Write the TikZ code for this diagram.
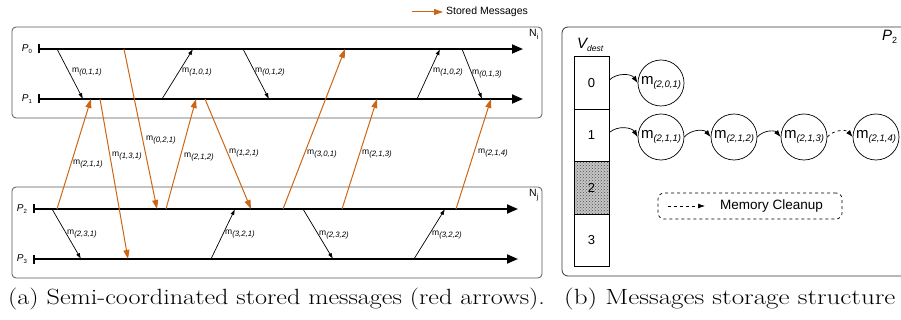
\documentclass[tikz,border=0pt]{standalone}
\usepackage{fontspec}
\newfontfamily\hv{Liberation Sans}
\usetikzlibrary{arrows.meta,patterns}
\definecolor{stored}{RGB}{204,102,20}
\newcommand\mlab[1]{{\fontsize{8.5}{9}\selectfont m}\raisebox{-2.5pt}{\fontsize{7.8}{8}\selectfont\itshape(#1)}}
\newcommand\clab[1]{{\fontsize{15}{15}\selectfont m}\raisebox{-3pt}{\fontsize{9.5}{10}\selectfont\itshape(#1)}}
\newcommand\plab[1]{{\fontsize{10}{10}\selectfont\itshape P}\raisebox{-2.5pt}{\fontsize{6}{6}\selectfont #1}}
\tikzset{
  proc/.style={line width=1.8pt, {Bar[width=9pt,line width=1.5pt]}-{Triangle[length=11pt,width=9pt]}},
  msg/.style={line width=0.7pt, -{Latex[length=6pt,width=4pt]}},
  smsg/.style={draw=stored, line width=1pt, -{Triangle[length=9pt,width=6pt]}},
  lab/.style={anchor=west, inner sep=0pt, font=\hv},
  grp/.style={draw=black!65, line width=0.8pt, rounded corners=4pt},
  cell/.style={draw, line width=0.7pt, minimum width=35pt, minimum height=52.5pt, inner sep=0pt, font=\hv\fontsize{13}{13}\selectfont},
  msgc/.style={draw, circle, line width=0.7pt, minimum size=46pt, inner sep=0pt, font=\hv},
  carr/.style={line width=0.7pt, -{Latex[length=7pt,width=5pt]}, bend left=50},
  capt/.style={anchor=west, inner sep=0pt, font=\fontsize{22}{24}\selectfont},
}
\begin{document}
\begin{tikzpicture}[x=1pt,y=-1pt]
\useasboundingbox (0,0) rectangle (901,320);
\clip (0,0) rectangle (901,320);
% ---------- legend
\coordinate (legA) at (412,12);
\node[lab, font=\hv\fontsize{10.5}{11}\selectfont] (legT) at (446,12) {Stored Messages};
\draw[smsg, shorten >=3pt] (legA) -- (legT.west);
% ---------- groups
\draw[grp] (12,27) rectangle (542,118);
\node[lab, font=\hv\fontsize{10.5}{10}\selectfont] (Ni) at (529,34) {N\raisebox{-3pt}{\fontsize{7.5}{7}\selectfont i}};
\draw[grp] (12,187) rectangle (542,278);
\node[lab, font=\hv\fontsize{10.5}{10}\selectfont] (Nj) at (529,195) {N\raisebox{-3pt}{\fontsize{7.5}{7}\selectfont j}};
% ---------- timelines
\coordinate (P0s) at (38,49); \coordinate (P0e) at (523,49);
\coordinate (P1s) at (38,99); \coordinate (P1e) at (523,99);
\coordinate (P2s) at (33,209); \coordinate (P2e) at (518,209);
\coordinate (P3s) at (33,259); \coordinate (P3e) at (518,259);
\draw[proc] (P0s) -- (P0e);
\draw[proc] (P1s) -- (P1e);
\draw[proc] (P2s) -- (P2e);
\draw[proc] (P3s) -- (P3e);
\node[font=\hv, inner sep=0pt] (lP0) at (27,49) {\plab{0}};
\node[font=\hv, inner sep=0pt] (lP1) at (27,99) {\plab{1}};
\node[font=\hv, inner sep=0pt] (lP2) at (22,209) {\plab{2}};
\node[font=\hv, inner sep=0pt] (lP3) at (22,259) {\plab{3}};
% ---------- black messages
\coordinate (a1) at (57,49);  \coordinate (a2) at (83,99);
\coordinate (b1) at (162,99); \coordinate (b2) at (193,49);
\coordinate (c1) at (243,49); \coordinate (c2) at (269,99);
\coordinate (d1) at (417,99); \coordinate (d2) at (440,49);
\coordinate (e1) at (462,49); \coordinate (e2) at (482,99);
\coordinate (f1) at (52,209); \coordinate (f2) at (81,259);
\coordinate (g1) at (211,259); \coordinate (g2) at (235,209);
\coordinate (h1) at (303,209); \coordinate (h2) at (333,259);
\coordinate (i1) at (414,259); \coordinate (i2) at (445,209);
\draw[msg] (a1) -- (a2);
\draw[msg] (b1) -- (b2);
\draw[msg] (c1) -- (c2);
\draw[msg] (d1) -- (d2);
\draw[msg] (e1) -- (e2);
\draw[msg] (f1) -- (f2);
\draw[msg] (g1) -- (g2);
\draw[msg] (h1) -- (h2);
\draw[msg] (i1) -- (i2);
\node[lab] (la) at (72,72) {\mlab{0,1,1}};
\node[lab] (lb) at (182,72) {\mlab{1,0,1}};
\node[lab] (lc) at (255,72) {\mlab{0,1,2}};
\node[lab] (ld) at (433,72) {\mlab{1,0,2}};
\node[lab] (le) at (472,74) {\mlab{0,1,3}};
\node[lab] (lf) at (67,234) {\mlab{2,3,1}};
\node[lab] (lg) at (225,234) {\mlab{3,2,1}};
\node[lab] (lh) at (319,235) {\mlab{2,3,2}};
\node[lab] (li) at (432,235) {\mlab{3,2,2}};
% ---------- stored messages
\coordinate (s1a) at (57,209);  \coordinate (s1b) at (91,99);
\coordinate (s2a) at (100,99);  \coordinate (s2b) at (128,259);
\coordinate (s3a) at (124,49);  \coordinate (s3b) at (157,209);
\coordinate (s4a) at (166,209); \coordinate (s4b) at (196,99);
\coordinate (s5a) at (205,99);  \coordinate (s5b) at (251,209);
\coordinate (s6a) at (283,209); \coordinate (s6b) at (345,49);
\coordinate (s7a) at (342,209); \coordinate (s7b) at (377,99);
\coordinate (s8a) at (456,209); \coordinate (s8b) at (491,99);
\draw[smsg] (s1a) -- (s1b);
\draw[smsg] (s2a) -- (s2b);
\draw[smsg] (s3a) -- (s3b);
\draw[smsg] (s4a) -- (s4b);
\draw[smsg] (s5a) -- (s5b);
\draw[smsg] (s6a) -- (s6b);
\draw[smsg] (s7a) -- (s7b);
\draw[smsg] (s8a) -- (s8b);
\node[lab] (ls1) at (73,164) {\mlab{2,1,1}};
\node[lab] (ls2) at (112,156) {\mlab{1,3,1}};
\node[lab] (ls3) at (146,140) {\mlab{0,2,1}};
\node[lab] (ls4) at (184,157) {\mlab{2,1,2}};
\node[lab] (ls5) at (229,153) {\mlab{1,2,1}};
\node[lab] (ls6) at (307,154) {\mlab{3,0,1}};
\node[lab] (ls7) at (362,154) {\mlab{2,1,3}};
\node[lab] (ls8) at (478,153) {\mlab{2,1,4}};
% ---------- right panel
\draw[draw=black!80, line width=0.8pt, rounded corners=6pt] (562,27) rectangle (930,276);
\node[lab] (vd) at (577,45) {{\fontsize{15}{15}\selectfont\itshape V}\raisebox{-3pt}{\fontsize{8.5}{9}\selectfont\itshape dest}};
\node[lab] (p2r) at (882,37) {{\fontsize{15}{15}\selectfont\itshape P}\raisebox{-3pt}{\fontsize{9}{9}\selectfont 2}};
\node[cell] (cell0) at (591.5,83) {0};
\node[cell] (cell1) at (591.5,135.5) {1};
\node[cell, fill=gray!45] (cell2) at (591.5,188) {};
\node[cell, pattern=crosshatch dots, pattern color=black!70] (cell2t) at (591.5,188) {2};
\node[cell] (cell3) at (591.5,240.5) {3};
\node[msgc] (c201) at (661,83) {\clab{2,0,1}};
\node[msgc] (c211) at (661,137) {\clab{2,1,1}};
\node[msgc] (c212) at (734,137) {\clab{2,1,2}};
\node[msgc] (c213) at (804,137) {\clab{2,1,3}};
\node[msgc] (c214) at (876,137) {\clab{2,1,4}};
\draw[carr] ([yshift=3pt]cell0.east) to (c201.west);
\draw[carr] ([yshift=3pt]cell1.east) to (c211.west);
\draw[carr] (c211.east) to (c212.west);
\draw[carr] (c212.east) to (c213.west);
\draw[carr, dashed] (c213.east) to (c214.west);
% memory cleanup legend
\node[draw, dashed, line width=0.7pt, rounded corners=6pt, minimum width=184pt, minimum height=26pt] (mc) at (750,206) {};
\coordinate (mcA) at (668,206);
\node[lab, font=\hv\fontsize{13.5}{14}\selectfont] (mcT) at (720,206) {Memory Cleanup};
\draw[line width=0.7pt, dashed, -{Latex[length=7pt,width=5pt]}] (mcA) -- ([xshift=-15pt]mcT.west);
% ---------- captions
\node[capt] (capa) at (8,299) {\scalebox{1.19}[1]{(a) Semi-coordinated stored messages (red arrows).}};
\node[capt] (capb) at (564,299) {\scalebox{1.23}[1]{(b) Messages storage structure}};
\end{tikzpicture}
\end{document}
